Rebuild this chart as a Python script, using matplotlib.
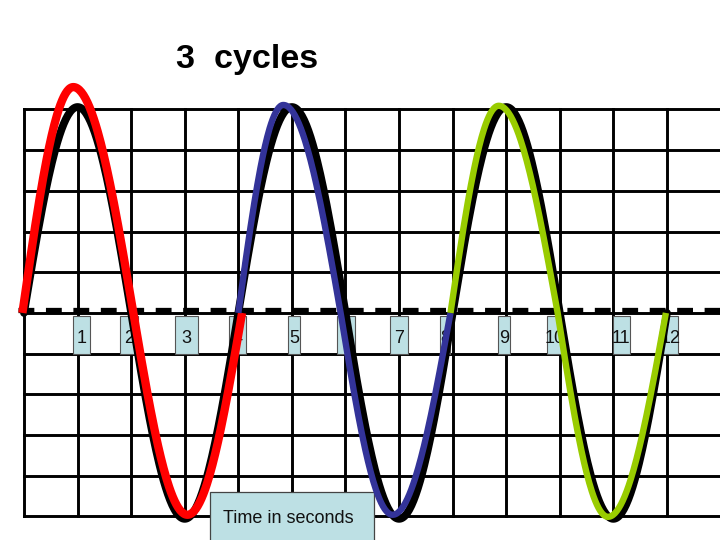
import numpy as np
import matplotlib
matplotlib.use("Agg")
import matplotlib.pyplot as plt
from matplotlib.patches import Rectangle

plt.rcParams['font.family'] = ['Liberation Sans', 'DejaVu Sans']

# data: time in seconds (1 grid cell = 1 s), amplitude in grid rows
title = "3  cycles"
x_label = "Time in seconds"
seconds = [str(i) for i in range(1, 13)]
n_cycles = 3
period = 4.0
amp_black = 5.06

# each coloured cycle: start, peak, zero, trough, end (seconds) and peak / trough heights
cycle_colors = ['#ff0000', '#333399', '#99cc00']
cycle_t = [
    [-0.03, 0.92, 2.04, 3.05, 4.07],
    [4.00, 4.84, 5.91, 6.88, 7.96],
    [7.96, 8.86, 9.96, 10.90, 11.98],
]
cycle_peak = [5.55, 5.11, 5.09]
cycle_trough = [-4.96, -4.96, -5.01]
cycle_lw = [6.0, 4.6, 4.6]

# label boxes (left edge and width in seconds)
box_left = [0.915, 1.79, 2.82, 3.83, 4.93, 5.84, 6.83, 7.76, 8.85, 9.76, 10.99, 11.91]
box_width = [0.32, 0.34, 0.43, 0.31, 0.22, 0.34, 0.34, 0.19, 0.22, 0.30, 0.32, 0.30]

fig = plt.figure(figsize=(7.2, 5.4), dpi=100)
ax = fig.add_axes([0, 0, 1, 1])
ax.set_xlim(-0.448, 12.99)
ax.set_ylim(-5.58, 7.69)
ax.axis('off')

# grid
for i in range(13):
    ax.plot([i, i], [-5, 5], color='black', lw=2.1, zorder=1, solid_capstyle='projecting')
for j in range(-5, 6):
    ax.plot([0, 13.2], [j, j], color='black', lw=2.1, zorder=1, solid_capstyle='projecting')

# dashed zero line
ax.plot([-0.11, 13.2], [0.07, 0.07], color='black', lw=3.8, zorder=2,
        dashes=(3.0, 2.2), solid_capstyle='butt')

# second labels
for lab, left, w in zip(seconds, box_left, box_width):
    ax.add_patch(Rectangle((left, -1.0), w, 0.93, facecolor='#bde0e4',
                           edgecolor='#555555', lw=0.8, zorder=3))
    ax.text(left + w / 2, -0.75, lab, ha='center', va='baseline',
            fontsize=13, color='#111111', zorder=4)

# black reference sine
t = np.linspace(0, n_cycles * period, 600)
ax.plot(t, amp_black * np.sin(2 * np.pi * t / period), color='black', lw=5.6,
        zorder=5, solid_capstyle='round')

# coloured cycles built from quarter-sine arcs between key points
for col, kt, pk, tr, lw in zip(cycle_colors, cycle_t, cycle_peak, cycle_trough, cycle_lw):
    levels = [0, pk, 0, tr, 0]
    xs, ys = [], []
    for k in range(4):
        s = np.linspace(0, 1, 60)
        xs.append(kt[k] + (kt[k + 1] - kt[k]) * s)
        if k % 2 == 0:
            ys.append(levels[k + 1] * np.sin(np.pi / 2 * s))
        else:
            ys.append(levels[k] * np.cos(np.pi / 2 * s))
    ax.plot(np.concatenate(xs), np.concatenate(ys), color=col, lw=lw, zorder=6,
            solid_capstyle='butt')

# x label box
ax.add_patch(Rectangle((3.475, -5.7), 3.05, 1.3, facecolor='#bde0e4',
                       edgecolor='#444444', lw=0.9, zorder=3))
ax.text(4.94, -5.16, x_label, ha='center', va='baseline', fontsize=13,
        color='#111111', zorder=4)

fig.text(0.343, 1 - 68 / 540, title, ha='center', va='baseline',
         fontsize=24.5, fontweight='bold')

fig.savefig('out.png', dpi=100)
